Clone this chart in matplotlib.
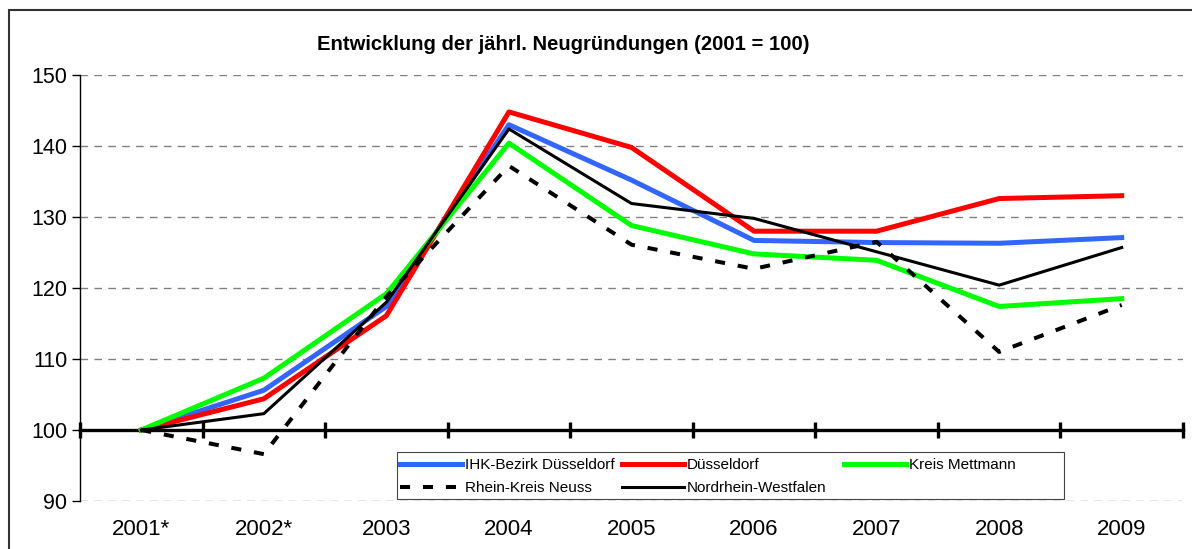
import numpy as np
import matplotlib
matplotlib.use('Agg')
import matplotlib.pyplot as plt
from matplotlib.patches import Rectangle
from matplotlib.legend import Legend

plt.rcParams['font.family'] = ['Liberation Sans', 'DejaVu Sans']

years = ['2001*', '2002*', '2003', '2004', '2005', '2006', '2007', '2008', '2009']
ihk = [100, 105.6, 117.4, 143.0, 135.2, 126.7, 126.4, 126.3, 127.1]
duesseldorf = [100, 104.4, 116.1, 144.8, 139.8, 128.0, 128.0, 132.6, 133.0]
mettmann = [100, 107.3, 119.2, 140.4, 128.8, 124.8, 123.9, 117.4, 118.5]
neuss = [100, 96.6, 118.8, 137.2, 126.1, 122.7, 126.5, 111.0, 117.6]
nrw = [100, 102.3, 118.0, 142.4, 131.9, 129.8, 125.1, 120.4, 125.7]
yticks = [90, 100, 110, 120, 130, 140, 150]

W, H = 1192, 549
fig = plt.figure(figsize=(W/100, H/100), dpi=100)
ax = fig.add_axes([80/W, (H-501)/H, 1103/W, 426/H])

x = np.arange(len(years))
h_ihk, = ax.plot(x, ihk, color='#3366ff', lw=3.6, label='IHK-Bezirk Düsseldorf')
h_dus, = ax.plot(x, duesseldorf, color='#ff0000', lw=3.6, label='Düsseldorf')
h_met, = ax.plot(x, mettmann, color='#00ff00', lw=3.6, label='Kreis Mettmann')
h_neu, = ax.plot(x, neuss, color='black', lw=2.9, dashes=(2.5, 3.2), label='Rhein-Kreis Neuss')
h_nrw, = ax.plot(x, nrw, color='black', lw=2.2, label='Nordrhein-Westfalen')

ax.set_xlim(-0.5, len(years) - 0.5)
ax.set_ylim(90, 150)
ax.set_yticks(yticks)
ax.tick_params(axis='y', labelsize=15.5, length=6, width=1, pad=3)
ax.yaxis.grid(True, color='#808080', lw=1, dashes=(5.5, 4.5))
ax.set_axisbelow(True)

for s in ['top', 'right']:
    ax.spines[s].set_visible(False)
ax.spines['left'].set_linewidth(1)
ax.spines['bottom'].set_position(('data', 100))
ax.spines['bottom'].set_linewidth(2.4)
ax.spines['bottom'].set_zorder(1.5)
ax.set_xticks(np.arange(-0.5, len(years)))
ax.tick_params(axis='x', direction='inout', length=11, width=2.4, labelbottom=False)

# category labels below the plot
sec = ax.secondary_xaxis('bottom')
sec.set_xticks(x, years)
sec.tick_params(length=0, labelsize=16, pad=13)
sec.spines['bottom'].set_visible(False)

# legend: box + three equal-width columns (Excel style)
ax.add_patch(Rectangle((317/1103, 2/426), 667/1103, 47/426, transform=ax.transAxes,
                       facecolor='white', edgecolor='#444444', lw=0.8, zorder=4))
columns = [[h_ihk, h_neu], [h_dus, h_nrw], [h_met]]
col_x = [400, 622, 844]
for hs, cx in zip(columns, col_x):
    lg = Legend(ax, hs, [h.get_label() for h in hs], loc='upper left',
                bbox_to_anchor=((cx - 80)/1103, (501 - 458)/426),
                fontsize=11, frameon=False, borderpad=0, borderaxespad=0,
                handlelength=4.05, handletextpad=0.2, labelspacing=0.6)
    lg.set_zorder(5)
    ax.add_artist(lg)

fig.text(563/W, 1 - 45/H, 'Entwicklung der jährl. Neugründungen (2001 = 100)',
         ha='center', va='center', fontsize=14.6, fontweight='bold')

fig.patches.append(Rectangle((9/W, -0.1), 1.2, 1.1 - 10/H, transform=fig.transFigure,
                             fill=False, edgecolor='#333333', lw=1.5))

fig.savefig('out.png', dpi=100)
